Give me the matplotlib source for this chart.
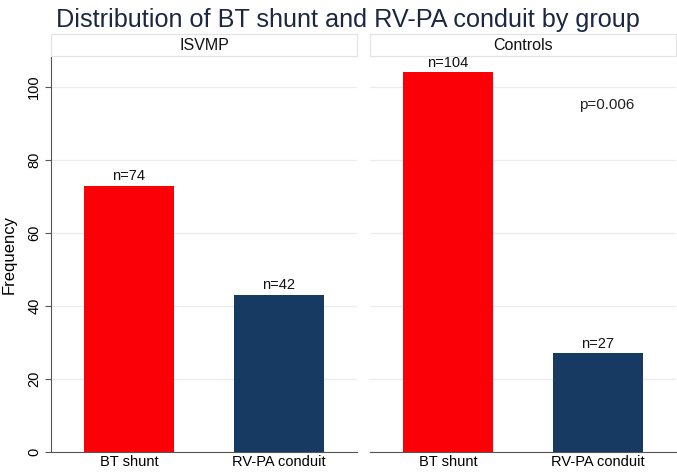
import matplotlib
matplotlib.use("Agg")
import matplotlib.pyplot as plt
from matplotlib.patches import Rectangle

plt.rcParams['font.family'] = ['Liberation Sans', 'DejaVu Sans']

title = "Distribution of BT shunt and RV-PA conduit by group"
groups = ["ISVMP", "Controls"]
categories = ["BT shunt", "RV-PA conduit"]
values = {"ISVMP": [73, 43], "Controls": [104, 27]}
labels = {"ISVMP": ["n=74", "n=42"], "Controls": ["n=104", "n=27"]}
colors = ["#fb0007", "#173a62"]
yticks = [0, 20, 40, 60, 80, 100]
pvalue_text = "p=0.006"

W, H = 677, 472
fig = plt.figure(figsize=(W / 100, H / 100), dpi=100)

# pixel layout
panels_px = [(51, 357), (370, 676)]
top_px, bottom_px = 57, 452
strip_top_px = 34

axes = []
for i, (g, (x0, x1)) in enumerate(zip(groups, panels_px)):
    ax = fig.add_axes([x0 / W, 1 - bottom_px / H, (x1 - x0) / W, (bottom_px - top_px) / H])
    axes.append(ax)
    xs = list(range(len(categories)))
    ax.bar(xs, values[g], width=0.6, color=colors, zorder=3)
    for x, v, lab in zip(xs, values[g], labels[g]):
        ax.annotate(lab, (x, v), xytext=(0, 2), textcoords='offset points',
                    ha='center', va='bottom', fontsize=10.5, color='#111111', zorder=4)
    ax.set_xlim(-0.52, 1.52)
    ax.set_ylim(0, 108.2)
    ax.set_yticks(yticks)
    ax.grid(axis='y', color='#e9edf0', linewidth=0.9, zorder=0)
    ax.set_xticks(xs)
    ax.set_xticklabels(categories, fontsize=10.5)
    ax.tick_params(axis='x', length=0, pad=2.5)
    for s in ['top', 'right']:
        ax.spines[s].set_visible(False)
    ax.spines['bottom'].set_color('#555555')
    ax.spines['left'].set_color('#555555')
    if i == 0:
        ax.set_yticklabels([str(t) for t in yticks], rotation=90, va='center', fontsize=10.5)
        ax.tick_params(axis='y', length=4, color='#555555', pad=3)
        ax.set_ylabel("Frequency", fontsize=12, labelpad=8)
    else:
        ax.spines['left'].set_visible(False)
        ax.tick_params(axis='y', length=0, labelleft=False)
    # header strip
    sh = (top_px - strip_top_px - 1) / (bottom_px - top_px)
    rect = Rectangle((0, 1 + 1 / (bottom_px - top_px)), 1, sh, transform=ax.transAxes,
                     facecolor='white', edgecolor='#e3e3e3', linewidth=0.9, clip_on=False)
    ax.add_patch(rect)
    ax.text(0.5, 1 + 1 / (bottom_px - top_px) + sh / 2, g, transform=ax.transAxes,
            ha='center', va='center', fontsize=11.5, color='#111111')

axes[1].text(1.06, 95, pvalue_text, ha='center', va='center', fontsize=11, color='#222222')

fig.text(348 / W, 1 - 20 / H, title, ha='center', va='center', fontsize=18.2, color='#1b2743')

fig.savefig("out.png", dpi=100)
